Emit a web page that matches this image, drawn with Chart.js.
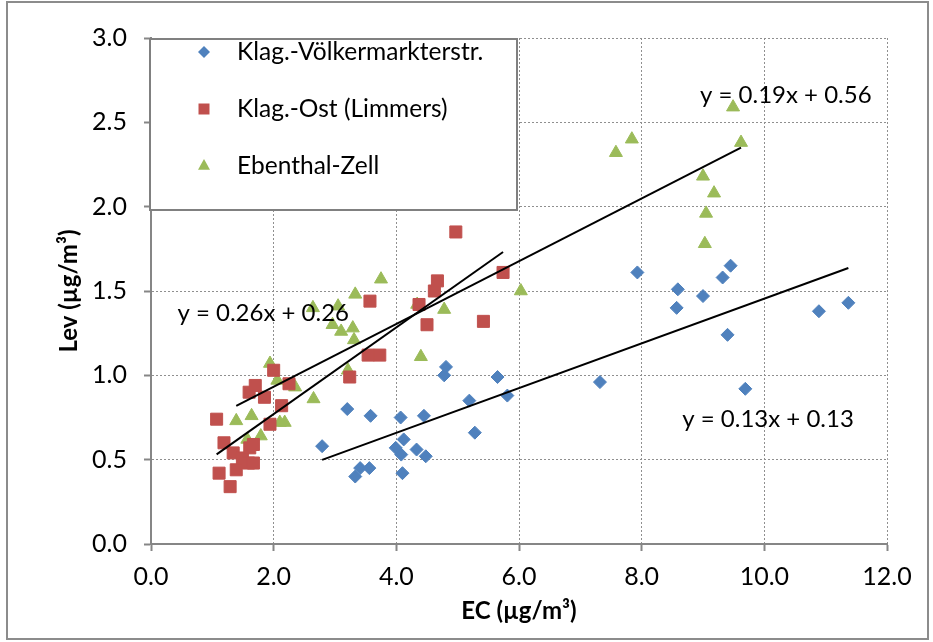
<!DOCTYPE html>
<html>
<head>
<meta charset="utf-8">
<script src="https://cdn.jsdelivr.net/npm/chart.js@4/dist/chart.umd.min.js"></script>
<style>
  html, body { margin: 0; padding: 0; background: #fff; }
  #wrap { width: 933px; height: 642px; position: relative; }
</style>
</head>
<body>
<div id="wrap"><canvas id="scatterChart"></canvas></div>
<script>
// series names and colours
const seriesNames = ["Klag.-Völkermarkterstr.", "Klag.-Ost (Limmers)", "Ebenthal-Zell"];
const seriesColors = ["#4F81BD", "#C0504D", "#9BBB59"];

// Klag.-Völkermarkterstr.
const voelkX = [2.79, 3.20, 3.33, 3.41, 3.56, 3.58, 3.99, 4.07, 4.08, 4.10, 4.12, 4.33, 4.45, 4.48, 4.78, 4.81,
                5.19, 5.28, 5.65, 5.81, 7.32, 7.93, 8.57, 8.59, 9.00, 9.32, 9.40, 9.45, 9.69, 10.89, 11.37];
const voelkY = [0.58, 0.80, 0.40, 0.45, 0.45, 0.76, 0.57, 0.75, 0.53, 0.42, 0.62, 0.56, 0.76, 0.52, 1.00, 1.05,
                0.85, 0.66, 0.99, 0.88, 0.96, 1.61, 1.40, 1.51, 1.47, 1.58, 1.24, 1.65, 0.92, 1.38, 1.43];

// Klag.-Ost (Limmers)
const ostX = [1.07, 1.11, 1.19, 1.29, 1.34, 1.39, 1.49, 1.59, 1.60, 1.61, 1.67, 1.67, 1.70, 1.85, 1.94, 2.00,
              2.13, 2.25, 3.24, 3.54, 3.57, 3.73, 4.37, 4.50, 4.62, 4.67, 4.97, 5.42, 5.74];
const ostY = [0.74, 0.42, 0.60, 0.34, 0.54, 0.44, 0.51, 0.48, 0.90, 0.57, 0.59, 0.48, 0.94, 0.87, 0.71, 1.03,
              0.82, 0.95, 0.99, 1.12, 1.44, 1.12, 1.42, 1.30, 1.50, 1.56, 1.85, 1.32, 1.61];

// Ebenthal-Zell
const zellX = [1.39, 1.57, 1.64, 1.79, 1.94, 2.06, 2.10, 2.18, 2.35, 2.64, 2.65, 2.96, 3.05, 3.10, 3.21, 3.29,
               3.31, 3.33, 3.75, 4.34, 4.40, 4.78, 6.03, 7.58, 7.84, 9.00, 9.03, 9.05, 9.18, 9.49, 9.62];
const zellY = [0.73, 0.62, 0.76, 0.64, 1.07, 0.97, 0.72, 0.72, 0.93, 1.40, 0.86, 1.30, 1.41, 1.26, 1.03, 1.28,
               1.21, 1.48, 1.57, 1.42, 1.11, 1.39, 1.50, 2.32, 2.40, 2.18, 1.78, 1.96, 2.08, 2.59, 2.38];

// linear trend lines (slope, intercept) and their printed equations
const trendSlope = [0.1326, 0.257, 0.186];
const trendIntercept = [0.129, 0.256, 0.561];
const trendText = ["y = 0.13x + 0.13", "y = 0.26x + 0.26", "y = 0.19x + 0.56"];
const trendTextX = [10.06, 1.83, 10.35];
const trendTextY = [0.74, 1.37, 2.66];

const xTicks = [0, 2, 4, 6, 8, 10, 12];

const FONT = "Lato, 'Open Sans', sans-serif";

const seriesX = [voelkX, ostX, zellX];
const seriesY = [voelkY, ostY, zellY];
const styles = ["rectRot", "rect", "triangle"];
const radii = [6.5, 8.5, 7.5];

const toPoints = (xs, ys) => xs.map((x, i) => ({ x: x, y: ys[i] }));

const datasets = [];
seriesX.forEach((xs, s) => {
    datasets.push({
        label: seriesNames[s],
        data: toPoints(xs, seriesY[s]),
        pointStyle: styles[s],
        pointRadius: radii[s],
        pointHoverRadius: radii[s],
        backgroundColor: seriesColors[s],
        borderColor: seriesColors[s],
        borderWidth: 1,
        order: 2
    });
});
seriesX.forEach((xs, s) => {
    const x0 = Math.min(...xs), x1 = Math.max(...xs);
    datasets.push({
        type: "line",
        label: "trend " + seriesNames[s],
        data: [
            { x: x0, y: trendSlope[s] * x0 + trendIntercept[s] },
            { x: x1, y: trendSlope[s] * x1 + trendIntercept[s] }
        ],
        borderColor: "#000",
        borderWidth: 2,
        pointRadius: 0,
        fill: false,
        order: 1
    });
});

// outer frame of the picture
const framePlugin = {
    id: "frame",
    beforeDraw(chart) {
        const ctx = chart.ctx;
        ctx.save();
        ctx.strokeStyle = "#8c8c8c";
        ctx.lineWidth = 2;
        ctx.strokeRect(7, 2, 921, 637);
        ctx.restore();
    }
};

function drawMarker(ctx, style, x, y, r) {
    ctx.beginPath();
    if (style === "rectRot") {
        ctx.moveTo(x, y - r); ctx.lineTo(x + r, y); ctx.lineTo(x, y + r); ctx.lineTo(x - r, y);
    } else if (style === "rect") {
        ctx.rect(x - r, y - r, 2 * r, 2 * r);
    } else {
        ctx.moveTo(x, y - r); ctx.lineTo(x + r, y + r * 0.8); ctx.lineTo(x - r, y + r * 0.8);
    }
    ctx.closePath();
    ctx.fill();
}

// legend box sitting inside the plot area, top left
const boxLegend = {
    id: "boxLegend",
    afterDraw(chart) {
        const ctx = chart.ctx;
        const a = chart.chartArea;
        const left = a.left - 1, top = a.top + 1;
        ctx.save();
        ctx.fillStyle = "#fff";
        ctx.fillRect(left, top, 367, 171);
        ctx.strokeStyle = "#808080";
        ctx.lineWidth = 2;
        ctx.strokeRect(left, top, 367, 171);
        ctx.font = "24.5px " + FONT;
        ctx.textBaseline = "middle";
        ctx.fillStyle = "#000";
        const rows = [52, 109, 166];
        const sizes = [6, 5.5, 6];
        seriesNames.forEach((name, i) => {
            ctx.fillStyle = seriesColors[i];
            drawMarker(ctx, styles[i], left + 54, rows[i] + (i === 2 ? -1 : 0), sizes[i]);
            ctx.fillStyle = "#000";
            ctx.fillText(name, left + 87, rows[i]);
        });
        ctx.restore();
    }
};

// trend line equations
const trendLabels = {
    id: "trendLabels",
    afterDraw(chart) {
        const ctx = chart.ctx;
        const xs = chart.scales.x, ys = chart.scales.y;
        ctx.save();
        ctx.font = "24px " + FONT;
        ctx.fillStyle = "#000";
        ctx.textAlign = "center";
        ctx.textBaseline = "middle";
        trendText.forEach((t, i) => {
            ctx.fillText(t, xs.getPixelForValue(trendTextX[i]), ys.getPixelForValue(trendTextY[i]));
        });
        ctx.restore();
    }
};

new Chart(document.getElementById("scatterChart"), {
    type: "scatter",
    data: { datasets: datasets },
    plugins: [framePlugin, boxLegend, trendLabels],
    options: {
        responsive: true,
        maintainAspectRatio: false,
        animation: false,
        layout: { padding: { top: 38, right: 46, left: 0, bottom: 0 } },
        plugins: {
            legend: { display: false },
            tooltip: { enabled: false }
        },
        scales: {
            x: {
                type: "linear",
                min: 0,
                max: 12,
                afterBuildTicks: scale => { scale.ticks = xTicks.map(v => ({ value: v })); },
                afterFit: scale => { scale.height = 98; },
                ticks: {
                    color: "#000",
                    padding: 11,
                    font: { family: FONT, size: 25 },
                    callback: v => Number(v).toFixed(1)
                },
                grid: { color: "#8f8f8f", lineWidth: 1, tickLength: 7, tickColor: "#868686", tickWidth: 2 },
                border: { color: "#868686", width: 2, dash: [2, 2] },
                title: {
                    display: true,
                    text: "EC (µg/m³)",
                    color: "#000",
                    font: { family: FONT, size: 24, weight: "bold" },
                    padding: { top: 0, bottom: 16 }
                }
            },
            y: {
                type: "linear",
                min: 0,
                max: 3,
                afterFit: scale => { scale.width = 151; },
                ticks: {
                    stepSize: 0.5,
                    color: "#000",
                    padding: 17,
                    font: { family: FONT, size: 25 },
                    callback: v => Number(v).toFixed(1)
                },
                grid: { color: "#8f8f8f", lineWidth: 1, tickLength: 7, tickColor: "#868686", tickWidth: 2 },
                border: { color: "#868686", width: 2, dash: [2, 2] },
                title: {
                    display: true,
                    text: "Lev (µg/m³)",
                    color: "#000",
                    font: { family: FONT, size: 24, weight: "bold" },
                    padding: { top: 55, bottom: 0 }
                }
            }
        }
    }
});
</script>
</body>
</html>
